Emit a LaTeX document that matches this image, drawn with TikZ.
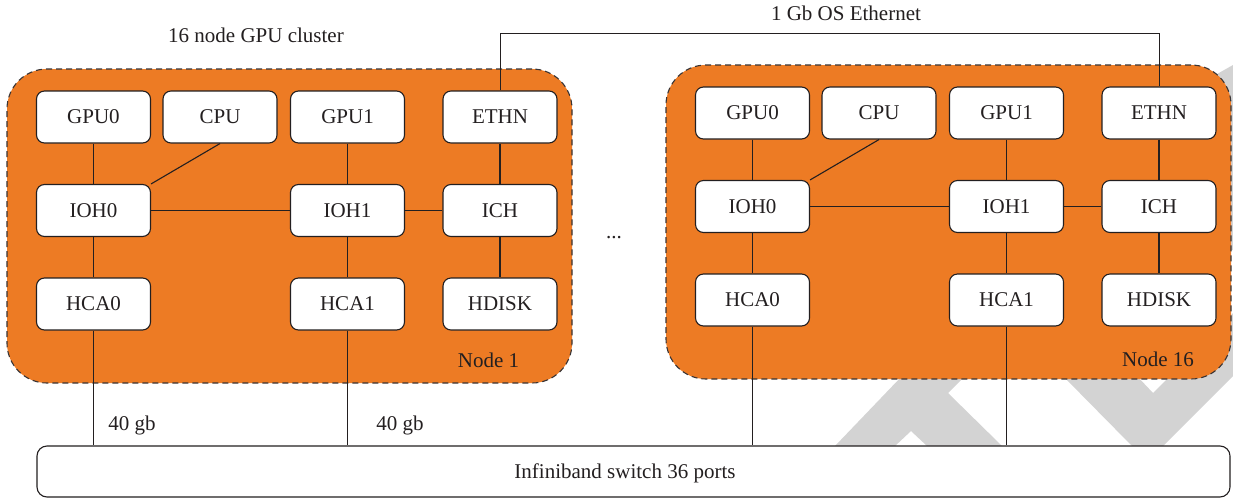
\documentclass[tikz,border=0pt]{standalone}
\usepackage{fontspec}
\setmainfont{Liberation Serif}
\newfontfamily\diagfont{Liberation Serif}
\definecolor{nodeorange}{RGB}{237,123,36}
\definecolor{ink}{RGB}{35,31,32}
\definecolor{wmgray}{RGB}{211,211,211}
\tikzset{
  unitbox/.style={draw=ink, fill=white, rounded corners=8pt, line width=1.1pt,
    minimum width=114pt, minimum height=52pt, inner sep=0pt,
    font=\diagfont\fontsize{21}{25}\selectfont, text=ink},
  clusterbox/.style={draw=ink!90, fill=nodeorange, dash pattern=on 6pt off 4pt,
    line width=1.1pt, rounded corners=40pt, inner sep=0pt},
  switchbox/.style={draw=ink, fill=white, rounded corners=10pt, line width=1.1pt, inner sep=0pt},
  link/.style={draw=ink, line width=1.1pt},
  lbl/.style={font=\diagfont\fontsize{21}{25}\selectfont, text=ink, inner sep=0pt},
  watermark/.style={fill=wmgray, draw=none}
}
\newcommand{\drawcluster}[3]{%
  \begin{scope}[shift={(#2,#3)}]
    \node[clusterbox, minimum width=565pt, minimum height=314pt] (#1cluster) at (289.5,226) {};
    \node[unitbox] (#1gpu0) at (93.5,117) {GPU0};
    \node[unitbox] (#1cpu)  at (220,117) {CPU};
    \node[unitbox] (#1gpu1) at (347.5,117) {GPU1};
    \node[unitbox] (#1ethn) at (500,117) {ETHN};
    \node[unitbox] (#1ioh0) at (93.5,210.5) {IOH0};
    \node[unitbox] (#1ioh1) at (347.5,210.5) {IOH1};
    \node[unitbox] (#1ich)  at (500,210.5) {ICH};
    \node[unitbox] (#1hca0) at (93.5,304) {HCA0};
    \node[unitbox] (#1hca1) at (347.5,304) {HCA1};
    \node[unitbox] (#1hdisk) at (500,304) {HDISK};
    \draw[link] (#1gpu0.south) -- (#1ioh0.north);
    \draw[link] (#1cpu.south) -- (#1ioh0.north east);
    \draw[link] (#1gpu1.south) -- (#1ioh1.north);
    \draw[link] (#1ethn.south) -- (#1ich.north);
    \draw[link] (#1ioh0.east) -- (#1ioh1.west);
    \draw[link] (#1ioh1.east) -- (#1ich.west);
    \draw[link] (#1ioh0.south) -- (#1hca0.north);
    \draw[link] (#1ioh1.south) -- (#1hca1.north);
    \draw[link] (#1ich.south) -- (#1hdisk.north);
  \end{scope}}
\begin{document}
\begin{tikzpicture}[x=1pt,y=-1pt]
  \fill[white] (0,0) rectangle (1233,498);
  \useasboundingbox (0,0) rectangle (1233,498);
  % watermark shapes
  \fill[watermark] (835,446) -- (903,375) -- (966,375) -- (948,393) -- (1002,446)
    -- (927,446) -- (911,431) -- (895,446) -- cycle;
  \fill[watermark] (1062,375) -- (1136,375) -- (1153,393) -- (1171,375) -- (1233,313)
    -- (1233,376) -- (1163,446) -- (1132,446) -- cycle;
  \fill[watermark] (1180,95) -- (1233,65) -- (1233,250) -- (1180,250) -- cycle;
  % clusters
  \drawcluster{a}{0}{0}
  \drawcluster{b}{659}{-4}
  \node[lbl] (aname) at (488.5,360) {Node 1};
  \node[lbl] (bname) at (1158,359) {Node 16};
  % switch
  \node[switchbox, minimum width=1193pt, minimum height=51pt] (switch) at (633.5,471.5) {};
  \node[lbl] (swlabel) at (625,473) {Infiniband switch 36 ports};
  % infiniband links
  \draw[link] (ahca0.south) -- (ahca0.south |- switch.north);
  \draw[link] (ahca1.south) -- (ahca1.south |- switch.north);
  \draw[link] (bhca0.south) -- (bhca0.south |- switch.north);
  \draw[link] (bhca1.south) -- (bhca1.south |- switch.north);
  % ethernet
  \coordinate (ethlevel) at (0,33);
  \draw[link, line width=1pt] (aethn.north) -- (aethn.north |- ethlevel) -- (bethn.north |- ethlevel) -- (bethn.north);
  % labels
  \node[lbl] (title) at (256,35) {16 node GPU cluster};
  \node[lbl] (ethlabel) at (846,13) {1 Gb OS Ethernet};
  \node[lbl] (dots) at (614,238) {...};
  \node[lbl] (gbA) at (132,425) {40 gb};
  \node[lbl] (gbB) at (400,425) {40 gb};
\end{tikzpicture}
\end{document}
